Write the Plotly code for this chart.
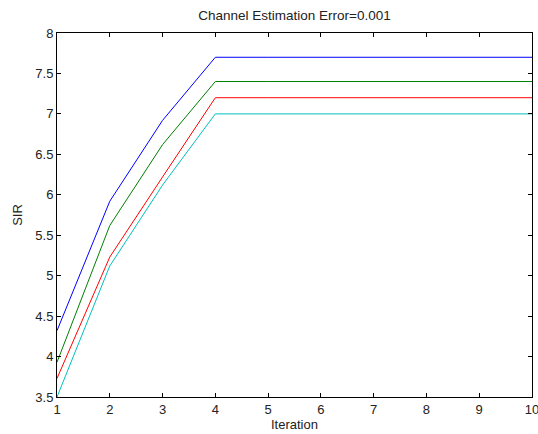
import plotly.graph_objects as go

iterations = [1, 2, 3, 4, 5, 6, 7, 8, 9, 10]
sir_blue = [4.32, 5.92, 6.92, 7.7, 7.7, 7.7, 7.7, 7.7, 7.7, 7.7]
sir_green = [3.93, 5.62, 6.62, 7.4, 7.4, 7.4, 7.4, 7.4, 7.4, 7.4]
sir_red = [3.73, 5.23, 6.22, 7.2, 7.2, 7.2, 7.2, 7.2, 7.2, 7.2]
sir_cyan = [3.5, 5.12, 6.12, 7.0, 7.0, 7.0, 7.0, 7.0, 7.0, 7.0]
y_ticks = [3.5, 4, 4.5, 5, 5.5, 6, 6.5, 7, 7.5, 8]

series = [
    (sir_blue, "#0000FF"),
    (sir_green, "#008000"),
    (sir_red, "#FF0000"),
    (sir_cyan, "#00BFBF"),
]

FONT = "Liberation Sans, Arial"

fig = go.Figure()
for ys, col in series:
    fig.add_trace(go.Scatter(x=iterations, y=ys, mode="lines",
                             line=dict(color=col, width=1), showlegend=False))

axis_common = dict(showline=True, linecolor="black", linewidth=1, mirror="ticks",
                   ticks="inside", ticklen=4, tickcolor="black", showgrid=False,
                   zeroline=False, automargin=False, ticklabeloverflow="allow",
                   tickfont=dict(family=FONT, size=13, color="#222"))

fig.update_layout(
    width=538, height=434,
    margin=dict(l=57, r=6, t=33, b=37),
    paper_bgcolor="white", plot_bgcolor="white",
    title=dict(text="Channel Estimation Error=0.001", x=0.5, xref="paper", xanchor="center",
               y=1 - 15 / 434, yanchor="middle", automargin=False,
               font=dict(family=FONT, size=13.5, color="#222")),
    xaxis=dict(range=[1, 10], tickvals=iterations, ticklabelstandoff=0,
               title=dict(text="Iteration", standoff=0,
               font=dict(family=FONT, size=13, color="#222")), **axis_common),
    yaxis=dict(range=[3.5, 8], tickvals=y_ticks, ticktext=[f"{v:g}" for v in y_ticks],
               title=dict(text="SIR", standoff=9,
               font=dict(family=FONT, size=13, color="#222")), **axis_common),
)

fig.write_html("out.html", config={"displayModeBar": False},
               post_script="document.body.style.margin='0';document.body.style.overflow='hidden';")
